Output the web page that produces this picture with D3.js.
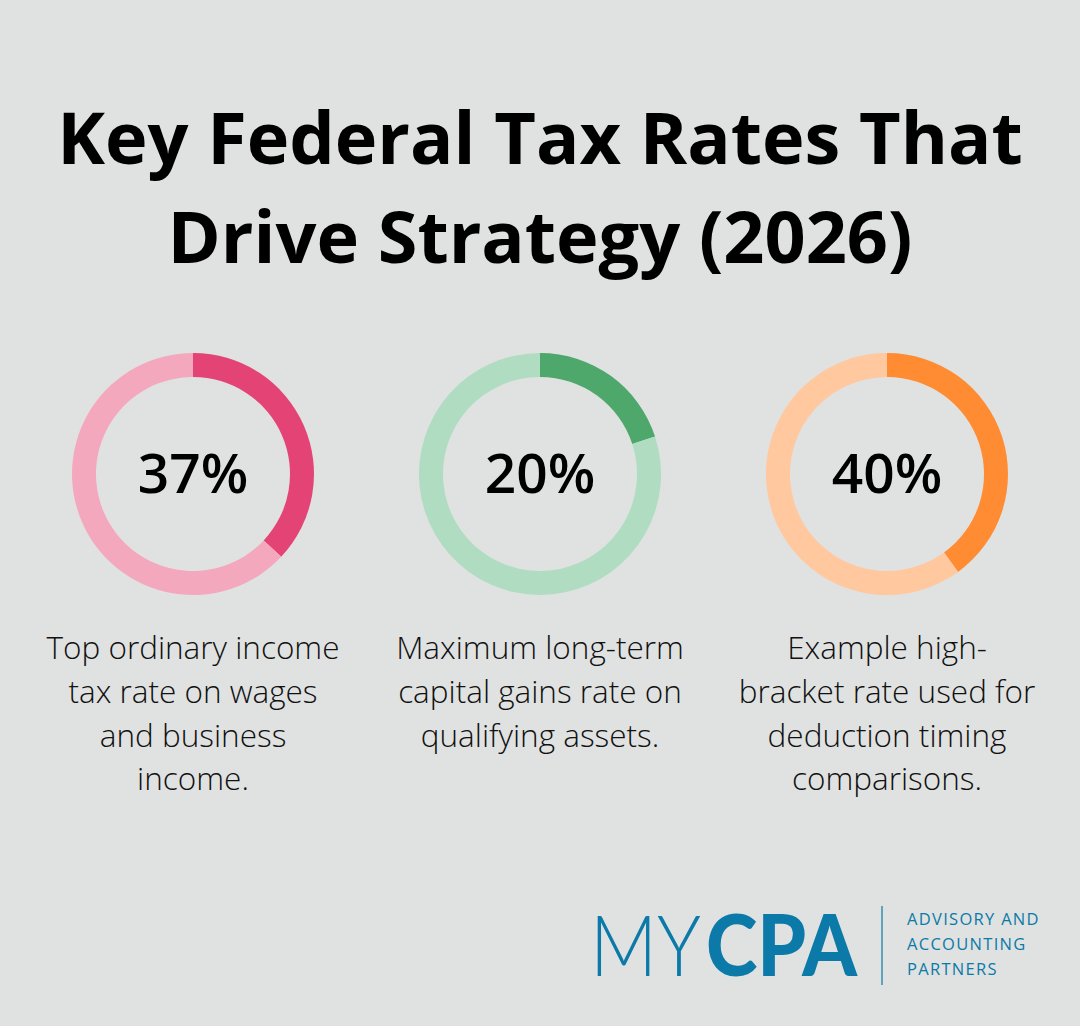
<!DOCTYPE html>
<html>
<head>
<meta charset="utf-8">
<script src="https://cdn.jsdelivr.net/npm/d3@7"></script>
<style>
  html, body { margin: 0; padding: 0; background: #e0e2e1; }
  svg { display: block; }
</style>
</head>
<body>
<div id="chart"></div>
<script>
// Chart data
const rates = [37, 20, 40];
const rateLabels = ["37%", "20%", "40%"];
const descriptions = [
    ["Top ordinary income", "tax rate on wages", "and business", "income."],
    ["Maximum long-term", "capital gains rate on", "qualifying assets."],
    ["Example high-", "bracket rate used for", "deduction timing", "comparisons."]
];
const darkColors = ["#e34475", "#4ea86c", "#ff8c33"];
const lightColors = ["#f4a8be", "#b0dcc2", "#ffc89e"];
const titleLines = ["Key Federal Tax Rates That", "Drive Strategy (2026)"];
const taglineLines = ["ADVISORY AND", "ACCOUNTING", "PARTNERS"];

const width = 1080, height = 1026;

const svg = d3.select("#chart").append("svg")
    .attr("width", width)
    .attr("height", height);

svg.append("rect")
    .attr("width", width)
    .attr("height", height)
    .attr("fill", "#e0e2e1");

// Title
svg.append("g").selectAll("text")
    .data(titleLines)
    .enter()
    .append("text")
    .attr("x", width / 2)
    .attr("y", (d, i) => 164 + i * 99)
    .attr("text-anchor", "middle")
    .style("font-family", "'Open Sans', sans-serif")
    .style("font-weight", "700")
    .style("font-size", "72px")
    .style("fill", "#000")
    .text(d => d);

// Donut positions
const x = d3.scalePoint()
    .domain(d3.range(rates.length))
    .range([193, 887]);

const pie = d3.pie().sort(null).value(d => d);
const arc = d3.arc().innerRadius(97).outerRadius(121);

const groups = svg.selectAll(".donut")
    .data(rates)
    .enter()
    .append("g")
    .attr("class", "donut")
    .attr("transform", (d, i) => `translate(${x(i)},474)`);

groups.each(function(d, i) {
    const g = d3.select(this);
    g.selectAll("path")
        .data(pie([d, 100 - d]))
        .enter()
        .append("path")
        .attr("d", arc)
        .attr("fill", (s, j) => j === 0 ? darkColors[i] : lightColors[i]);

    g.append("text")
        .attr("y", 19)
        .attr("text-anchor", "middle")
        .style("font-family", "'Open Sans', sans-serif")
        .style("font-weight", "600")
        .style("font-size", "55px")
        .style("fill", "#000")
        .text(rateLabels[i]);

    // Description text
    g.append("g").selectAll("text")
        .data(descriptions[i])
        .enter()
        .append("text")
        .attr("y", (t, k) => 185 + k * 43.8)
        .attr("text-anchor", "middle")
        .style("font-family", "'Open Sans', sans-serif")
        .style("font-weight", "300")
        .style("font-size", "31.5px")
        .style("fill", "#111")
        .text(t => t);
});

// Logo - squeeze each word to the reference width
function logoWord(txt, weight, x0, w) {
    const t = svg.append("text")
        .style("font-family", "Lato, sans-serif")
        .style("font-weight", weight)
        .style("font-size", "85px")
        .style("fill", "#0b7aa8")
        .text(txt);
    const natural = t.node().getComputedTextLength();
    t.attr("transform", `translate(${x0},976) scale(${w / natural},1)`);
}
logoWord("MY", "300", 590, 111);
logoWord("CPA", "900", 706, 151);

svg.append("line")
    .attr("x1", 882).attr("x2", 882)
    .attr("y1", 906).attr("y2", 985)
    .style("stroke", "#0b7aa8")
    .style("stroke-width", 1.2);

svg.selectAll(".tag")
    .data(taglineLines)
    .enter()
    .append("text")
    .attr("class", "tag")
    .attr("x", 907)
    .attr("y", (d, i) => 925 + i * 25)
    .style("font-family", "'Open Sans', sans-serif")
    .style("font-weight", "500")
    .style("font-size", "16.5px")
    .style("letter-spacing", "1.3px")
    .style("fill", "#0b7aa8")
    .text(d => d);
</script>
</body>
</html>
